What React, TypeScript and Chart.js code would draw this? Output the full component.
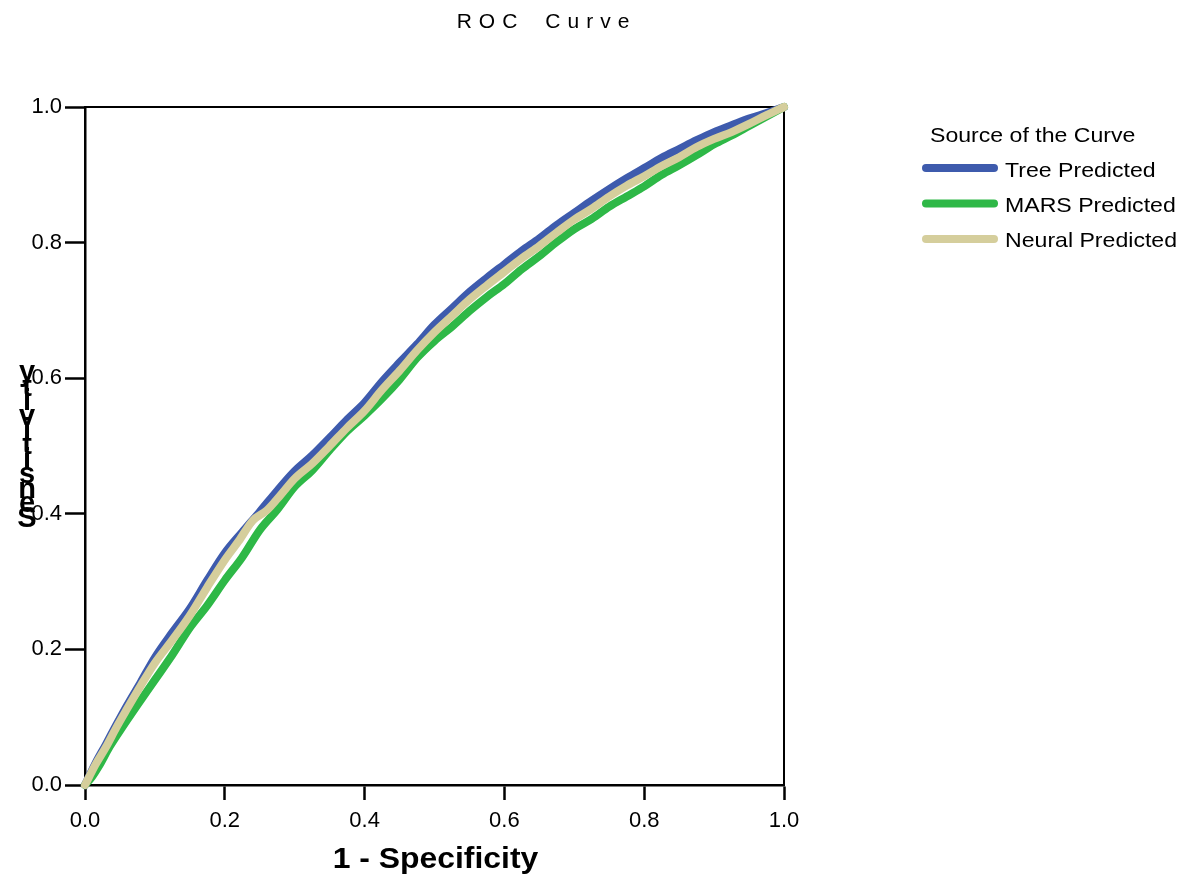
import React, { useEffect, useRef } from "react";
import { Chart, registerables } from "chart.js";

Chart.register(...registerables);

const FONT = "'Liberation Sans', Arial, Helvetica, sans-serif";

const tickValues = [0, 0.2, 0.4, 0.6, 0.8, 1.0];

const seriesNames = ["Tree Predicted", "MARS Predicted", "Neural Predicted"];
const seriesColors = ["#3e5bad", "#2eb847", "#d5ce9c"];

const treeFpr = [0, 0.015, 0.03, 0.045, 0.06, 0.08, 0.1, 0.125, 0.15, 0.175, 0.2, 0.225, 0.25, 0.275, 0.3, 0.325, 0.35, 0.375, 0.4, 0.425, 0.45, 0.475, 0.5, 0.525, 0.55, 0.575, 0.6, 0.625, 0.65, 0.675, 0.7, 0.725, 0.75, 0.775, 0.8, 0.825, 0.85, 0.875, 0.9, 0.925, 0.95, 0.975, 1];
const treeTpr = [0, 0.032, 0.06, 0.089, 0.117, 0.152, 0.188, 0.225, 0.26, 0.302, 0.342, 0.373, 0.403, 0.434, 0.463, 0.486, 0.512, 0.539, 0.564, 0.595, 0.623, 0.65, 0.679, 0.703, 0.727, 0.748, 0.768, 0.788, 0.806, 0.826, 0.844, 0.862, 0.879, 0.895, 0.91, 0.925, 0.938, 0.951, 0.963, 0.973, 0.983, 0.991, 1];

const marsFpr = [0, 0.01, 0.02, 0.035, 0.05, 0.075, 0.1, 0.125, 0.15, 0.175, 0.2, 0.225, 0.25, 0.275, 0.3, 0.325, 0.35, 0.375, 0.4, 0.425, 0.45, 0.475, 0.5, 0.525, 0.55, 0.575, 0.6, 0.625, 0.65, 0.675, 0.7, 0.725, 0.75, 0.775, 0.8, 0.825, 0.85, 0.875, 0.9, 0.925, 0.95, 0.975, 1];
const marsTpr = [0, 0.012, 0.028, 0.056, 0.08, 0.118, 0.155, 0.192, 0.232, 0.265, 0.302, 0.336, 0.376, 0.406, 0.44, 0.464, 0.494, 0.522, 0.545, 0.57, 0.598, 0.63, 0.655, 0.676, 0.699, 0.72, 0.739, 0.761, 0.78, 0.801, 0.82, 0.835, 0.853, 0.868, 0.883, 0.9, 0.914, 0.929, 0.945, 0.958, 0.972, 0.986, 1];

const neuralFpr = [0, 0.015, 0.03, 0.045, 0.06, 0.08, 0.1, 0.125, 0.15, 0.175, 0.2, 0.22, 0.24, 0.26, 0.28, 0.3, 0.325, 0.35, 0.375, 0.4, 0.425, 0.45, 0.475, 0.5, 0.525, 0.55, 0.575, 0.6, 0.625, 0.65, 0.675, 0.7, 0.725, 0.75, 0.775, 0.8, 0.825, 0.85, 0.875, 0.9, 0.925, 0.95, 0.975, 1];
const neuralTpr = [0, 0.03, 0.056, 0.085, 0.112, 0.147, 0.18, 0.214, 0.25, 0.292, 0.332, 0.36, 0.39, 0.405, 0.428, 0.452, 0.474, 0.5, 0.527, 0.552, 0.583, 0.611, 0.641, 0.668, 0.692, 0.716, 0.737, 0.757, 0.777, 0.795, 0.815, 0.834, 0.85, 0.868, 0.884, 0.898, 0.913, 0.926, 0.941, 0.953, 0.963, 0.975, 0.988, 1];

const titleText = "ROC Curve";
const xTitle = "1 - Specificity";
const yTitle = "Sensitivity";
const legendTitle = "Source of the Curve";

function toPoints(xs: number[], ys: number[]) {
  return xs.map((x, i) => ({ x, y: ys[i] }));
}

function stretchedText(ctx: CanvasRenderingContext2D, text: string, x: number, y: number, sx: number, align: CanvasTextAlign) {
  ctx.save();
  ctx.translate(x, y);
  ctx.scale(sx, 1);
  ctx.textAlign = align;
  ctx.fillText(text, 0, 0);
  ctx.restore();
}

const decor = {
  id: "decor",
  beforeDatasetsDraw(chart: any) {
    const { ctx, chartArea: a } = chart;
    ctx.save();
    ctx.strokeStyle = "#000";
    ctx.lineWidth = 2;
    ctx.beginPath();
    ctx.moveTo(a.left, a.top);
    ctx.lineTo(a.right, a.top);
    ctx.lineTo(a.right, a.bottom);
    ctx.stroke();
    ctx.restore();
  },
  afterDraw(chart: any) {
    const { ctx, chartArea: a } = chart;
    ctx.save();
    ctx.fillStyle = "#000";
    ctx.textBaseline = "alphabetic";

    // Title, letter-spaced
    ctx.font = `21px ${FONT}`;
    const spacing = 7;
    const chars = titleText.split("");
    const widths = chars.map((c) => (c === " " ? 21 : ctx.measureText(c).width + spacing));
    const total = widths.reduce((s, w) => s + w, 0) - spacing;
    let tx = 543 - total / 2;
    ctx.textAlign = "left";
    chars.forEach((c, i) => {
      if (c !== " ") ctx.fillText(c, tx, 28);
      tx += widths[i];
    });

    // X axis title
    ctx.font = `bold 29px ${FONT}`;
    stretchedText(ctx, xTitle, (a.left + a.right) / 2 + 1, 868, 1.1, "center");

    // Y axis title: stacked upright letters, from bottom up
    ctx.font = `bold 29px ${FONT}`;
    ctx.textAlign = "center";
    yTitle.split("").forEach((c, i) => {
      ctx.fillText(c, 27, 527 - i * 14.6);
    });

    // Legend
    ctx.font = `21px ${FONT}`;
    stretchedText(ctx, legendTitle, 930, 142, 1.1, "left");
    seriesNames.forEach((name, i) => {
      const sy = 168 + i * 35.5;
      ctx.save();
      ctx.strokeStyle = seriesColors[i];
      ctx.lineWidth = 8;
      ctx.lineCap = "round";
      ctx.beginPath();
      ctx.moveTo(926, sy);
      ctx.lineTo(994, sy);
      ctx.stroke();
      ctx.restore();
      stretchedText(ctx, name, 1005, 177 + i * 35, 1.1, "left");
    });
    ctx.restore();
  },
};

export default function App() {
  const ref = useRef<HTMLCanvasElement>(null);

  useEffect(() => {
    const canvas = ref.current;
    if (!canvas) return;
    const lineBase = {
      borderWidth: 8,
      pointRadius: 0,
      pointHoverRadius: 0,
      cubicInterpolationMode: "monotone" as const,
      borderCapStyle: "round" as const,
      borderJoinStyle: "round" as const,
      fill: false,
      clip: 10,
    };
    const chart = new Chart(canvas, {
      type: "line",
      data: {
        datasets: [
          { ...lineBase, label: seriesNames[0], data: toPoints(treeFpr, treeTpr), borderColor: seriesColors[0], backgroundColor: seriesColors[0], order: 2 },
          { ...lineBase, label: seriesNames[1], data: toPoints(marsFpr, marsTpr), borderColor: seriesColors[1], backgroundColor: seriesColors[1], order: 1 },
          { ...lineBase, label: seriesNames[2], data: toPoints(neuralFpr, neuralTpr), borderColor: seriesColors[2], backgroundColor: seriesColors[2], order: 0 },
        ],
      },
      options: {
        responsive: false,
        animation: false,
        events: [],
        layout: { padding: { left: 25, right: 401, top: 107, bottom: 41 } },
        plugins: {
          legend: { display: false },
          title: { display: false },
          tooltip: { enabled: false },
        },
        scales: {
          x: {
            type: "linear",
            min: 0,
            max: 1,
            afterBuildTicks: (s: any) => {
              s.ticks = tickValues.map((v) => ({ value: v }));
            },
            afterFit: (s: any) => {
              s.height = 50;
            },
            ticks: {
              callback: (v: any) => Number(v).toFixed(1),
              font: { family: FONT, size: 22 },
              color: "#000",
              padding: 8,
              maxRotation: 0,
              autoSkip: false,
            },
            grid: {
              drawOnChartArea: false,
              drawTicks: true,
              tickLength: 15,
              tickWidth: 2.5,
              tickColor: "#000",
            },
            border: { display: true, color: "#000", width: 2.5 },
          },
          y: {
            type: "linear",
            min: 0,
            max: 1,
            afterBuildTicks: (s: any) => {
              s.ticks = tickValues.map((v) => ({ value: v }));
            },
            afterFit: (s: any) => {
              s.width = 60;
            },
            ticks: {
              callback: (v: any) => Number(v).toFixed(1),
              font: { family: FONT, size: 22 },
              color: "#000",
              padding: 3,
              autoSkip: false,
            },
            grid: {
              drawOnChartArea: false,
              drawTicks: true,
              tickLength: 20,
              tickWidth: 2.5,
              tickColor: "#000",
            },
            border: { display: true, color: "#000", width: 2.5 },
          },
        },
      },
      plugins: [decor],
    });
    return () => chart.destroy();
  }, []);

  return (
    <div style={{ position: "absolute", left: 0, top: 0, width: 1185, height: 876, background: "#fff" }}>
      <canvas ref={ref} width={1185} height={876} style={{ display: "block" }} />
    </div>
  );
}
